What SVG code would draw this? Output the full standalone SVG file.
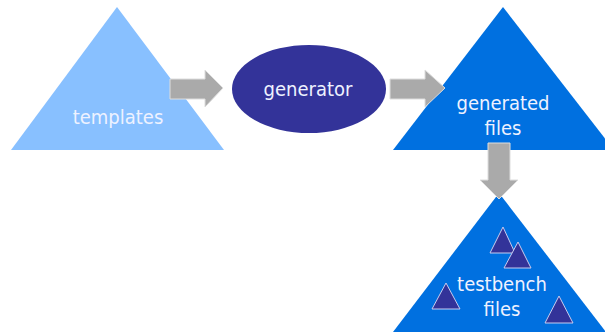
<svg xmlns="http://www.w3.org/2000/svg" width="605" height="333" viewBox="0 0 605 333">
  <defs>
    <style>
      .lbl { font-family: "DejaVu Sans Condensed", "DejaVu Sans", Verdana, sans-serif; font-size: 20px; fill: #EEF2FF; text-anchor: middle; }
      .flow { fill: #AAAAAA; stroke: #DDDDDD; stroke-width: 1; }
      .mini { fill: #333399; stroke: #C8CCEE; stroke-width: 1; }
    </style>
  </defs>
  <rect width="605" height="333" fill="#FFFFFF"/>

  <g id="templates">
    <polygon points="117,7 224,150 11,150" fill="#88C0FF"/>
    <text class="lbl" x="118" y="124">templates</text>
  </g>

  <g id="generator">
    <ellipse cx="309" cy="89" rx="77" ry="44" fill="#333399"/>
    <text class="lbl" x="308" y="96">generator</text>
  </g>

  <g id="generated-files">
    <polygon points="503,7 614,150 393,150" fill="#0070E0"/>
    <text class="lbl" x="503" y="110">generated</text>
    <text class="lbl" x="503" y="135">files</text>
  </g>

  <g id="testbench-files">
    <polygon points="499,193 606,332 393,332" fill="#0070E0"/>
    <polygon class="mini" points="503,227 515,253 490,253"/>
    <polygon class="mini" points="518,242 531,268 504,268"/>
    <polygon class="mini" points="446,283 460,309 432,309"/>
    <polygon class="mini" points="559,296 573,323 545,323"/>
    <text class="lbl" x="502" y="291">testbench</text>
    <text class="lbl" x="502" y="316">files</text>
  </g>

  <g id="connectors">
    <polygon class="flow" points="170,79 205,79 205,70 223,88 205,107 205,99 170,99"/>
    <polygon class="flow" points="390,79 425,79 425,70 445,88 425,107 425,99 390,99"/>
    <polygon class="flow" points="488,143 510,143 510,180 518,180 499,199 480,180 488,180"/>
  </g>
</svg>
